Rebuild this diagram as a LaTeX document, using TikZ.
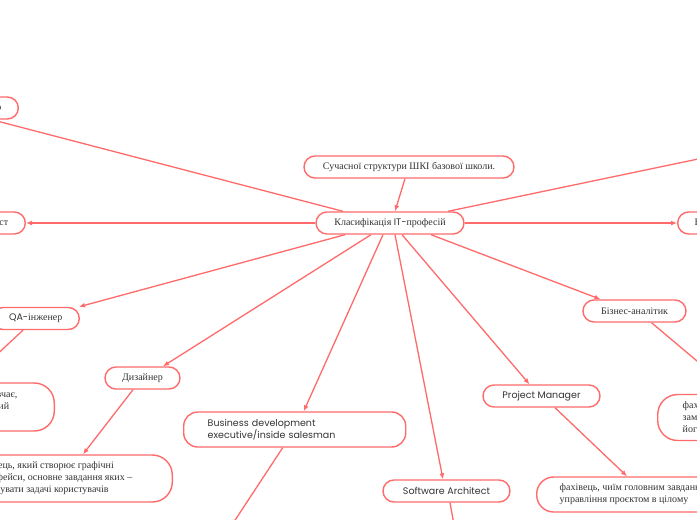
\documentclass[tikz,border=0pt]{standalone}
\usepackage{fontspec}
\setmainfont{Liberation Serif}
\newfontfamily\sansf{Poppins}
\usetikzlibrary{arrows.meta}
\definecolor{lnk}{HTML}{FF6B6B}
\definecolor{txt}{HTML}{333333}
\begin{document}
\begin{tikzpicture}[x=1pt,y=-1pt,
 box/.style={draw=lnk, line width=1.4pt, rounded corners=11pt, fill=white, inner sep=0pt, minimum height=22pt, text=txt, font=\fontsize{10}{12}\selectfont},
 sbox/.style={box, font=\sansf\fontsize{9.5}{12}\selectfont},
 dbox/.style={draw=lnk, line width=1.4pt, rounded corners=20pt, fill=white, text=txt, align=left, inner ysep=0pt, font=\fontsize{10}{12}\selectfont},
 link/.style={draw=lnk, line width=1.3pt, -{Latex[length=6pt,width=5pt]}}
]
\fill[white] (0,0) rectangle (697,520);
\useasboundingbox (0,0) rectangle (697,520);

\node[box, minimum width=148pt] (central) at (390,223) {Класифікація {\sansf\fontsize{9.5}{12}\selectfont IT-}професій};
\node[box, minimum width=210pt] (top) at (409,167) {Сучасної структури ШКІ базової школи.};
\node[box, anchor=east, inner xsep=17pt] (tl) at (19,108) {Системний адміністратор};
\node[box, anchor=east, inner xsep=17pt] (left) at (26,223) {Програміст};
\node[box, anchor=west, inner xsep=17pt] (right) at (677,223) {Веб-розробник};
\node[box, anchor=south west, inner xsep=17pt] (tr) at (720,140) {Розробник ігор};
\node[box, anchor=east, inner xsep=17pt] (qa) at (80,318.5) {{\sansf\fontsize{9.5}{12}\selectfont QA-}інженер};
\node[box, minimum width=75pt] (diz) at (142.5,378) {Дизайнер};
\node[sbox, anchor=west, text width=174pt, inner xsep=24pt, minimum height=35pt, align=left, rounded corners=14pt] (bus) at (183,429.5) {Business development\\executive/inside salesman};
\node[sbox, minimum width=127pt] (sa) at (446.5,491) {Software Architect};
\node[sbox, minimum width=117pt] (pm) at (541.5,396) {Project Manager};
\node[box, minimum width=103pt] (ba) at (634.5,311) {Бізнес-аналітик};

\node[dbox, anchor=east, inner xsep=37pt, minimum height=48pt] (qad) at (55,407) {фахівець, який тестує та вивчає,\\програмне забезпечення, який\\шукає помилки};
\node[dbox, anchor=east, inner xsep=40pt, minimum height=47pt] (dd) at (173,478.5) {фахівець, який створює графічні\\інтерфейси, основне завдання яких –\\вирішувати задачі користувачів};
\node[dbox, anchor=west, inner xsep=23pt, minimum height=35pt, rounded corners=17pt] (pmd) at (536,494.5) {фахівець, чиїм головним завданням є\\управління проєктом в цілому};
\node[dbox, anchor=west, inner xsep=25pt, minimum height=46pt] (bad) at (657,417.5) {фахівець, який вивчає потреби\\замовника та формулює\\його вимоги до продукту};

\coordinate (busend) at (199,575);
\coordinate (saend) at (464,580);

\draw[link] ([xshift=-4pt]top.south) -- ([xshift=5pt]central.north);
\draw[link] ([xshift=-47pt]central.north) -- ([xshift=-27pt]tl.south east);
\draw[link] ([xshift=58pt]central.north) -- ([xshift=69pt]tr.south west);
\draw[link] (central.west) -- (left.east);
\draw[link] (central.east) -- (right.west);
\draw[link] ([xshift=-45pt]central.south) -- ([xshift=-1pt]qa.north east);
\draw[link] ([xshift=-19pt]central.south) -- ([xshift=20.5pt]diz.north);
\draw[link] ([xshift=-7pt]central.south) -- ([xshift=9pt]bus.north);
\draw[link] ([xshift=5pt]central.south) -- ([xshift=-3.5pt]sa.north);
\draw[link] ([xshift=12pt]central.south) -- ([xshift=-12pt]pm.north);
\draw[link] ([xshift=41pt]central.south) -- ([xshift=-34pt]ba.north);
\draw[link] ([xshift=-57pt]qa.south east) -- ([xshift=-88pt]qad.north east);
\draw[link] ([xshift=-9.5pt]diz.south) -- ([xshift=-90pt]dd.north east);
\draw[link] ([xshift=-12pt]bus.south) -- (busend);
\draw[link] ([xshift=3.5pt]sa.south) -- (saend);
\draw[link] ([xshift=13.5pt]pm.south) -- ([xshift=91pt]pmd.north west);
\draw[link] ([xshift=17pt]ba.south) -- ([xshift=79pt]bad.north west);
\end{tikzpicture}
\end{document}
